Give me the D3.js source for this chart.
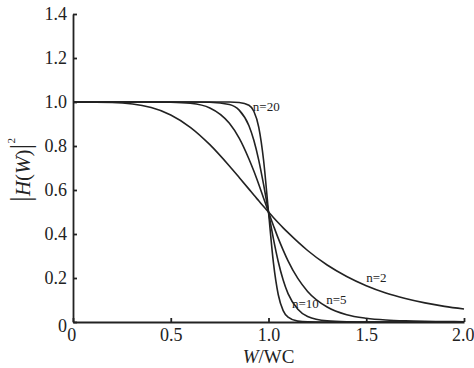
<!doctype html>
<html>
<head>
<meta charset="utf-8">
<script src="https://d3js.org/d3.v7.min.js"></script>
<style>
  body { margin:0; background:#fff; }
  text { font-family: "Liberation Serif", "Times New Roman", serif; fill:#222; }
</style>
</head>
<body>
<svg id="chart" width="474" height="368"></svg>
<script>
// frequency ratio W/WC where the curves were read
const wRatio = [0, 0.2, 0.4, 0.5, 0.6, 0.7, 0.8, 0.85, 0.9, 0.925, 0.95, 0.975, 1.0,
                1.025, 1.05, 1.075, 1.1, 1.15, 1.2, 1.3, 1.4, 1.5, 1.6, 1.7, 1.8, 1.9, 2.0];
// |H(W)|^2 for each order n
const n2  = [1, 0.998, 0.975, 0.941, 0.885, 0.806, 0.709, 0.657, 0.604, 0.577, 0.551, 0.525, 0.5,
             0.475, 0.451, 0.428, 0.406, 0.364, 0.325, 0.259, 0.207, 0.165, 0.132, 0.107, 0.087, 0.071, 0.059];
const n5  = [1, 1, 1, 0.999, 0.994, 0.973, 0.903, 0.836, 0.741, 0.686, 0.626, 0.563, 0.5,
             0.439, 0.380, 0.327, 0.278, 0.198, 0.139, 0.068, 0.033, 0.017, 0.009, 0.005, 0.003, 0.002, 0.001];
const n10 = [1, 1, 1, 1, 1, 0.999, 0.989, 0.963, 0.892, 0.826, 0.736, 0.624, 0.5,
             0.379, 0.274, 0.191, 0.129, 0.058, 0.025, 0.005, 0.001, 0, 0, 0, 0, 0, 0];
const n20 = [1, 1, 1, 1, 1, 1, 1, 0.998, 0.985, 0.958, 0.886, 0.734, 0.5,
             0.271, 0.124, 0.052, 0.022, 0.004, 0.001, 0, 0, 0, 0, 0, 0, 0, 0];

const seriesNames = ["n=2", "n=5", "n=10", "n=20"];
const xTicks = [0, 0.5, 1.0, 1.5, 2.0];
const yTicks = [0, 0.2, 0.4, 0.6, 0.8, 1.0, 1.2, 1.4];

const svg = d3.select("#chart");
const x = d3.scaleLinear().domain([0, 2]).range([73, 464]);
const y = d3.scaleLinear().domain([0, 1.4]).range([322, 14]);
const fmt = d => d === 0 ? "0" : d3.format(".1f")(d);

// x axis, ticks pointing up
const gx = svg.append("g").attr("transform", "translate(0," + y(0) + ")")
  .call(d3.axisBottom(x).tickValues(xTicks).tickFormat(fmt).tickSizeInner(-4).tickSizeOuter(0).tickPadding(5));
gx.selectAll("text").attr("font-size", 18).attr("dy", "0.78em");
gx.selectAll(".tick").filter(d => d === 0).select("text").attr("dx", "-0.1em");
gx.selectAll(".tick").filter(d => d === 2).select("text").attr("text-anchor", "end").attr("dx", "0.55em");

// y axis, ticks pointing right
const gy = svg.append("g").attr("transform", "translate(" + x(0) + ",0)")
  .call(d3.axisLeft(y).tickValues(yTicks).tickFormat(fmt).tickSizeInner(-4).tickSizeOuter(0).tickPadding(6));
gy.selectAll("text").attr("font-size", 18);
gy.selectAll(".tick").filter(d => d === 0).select("text").attr("dy", "0.5em");

svg.selectAll(".domain, .tick line").attr("stroke", "#222").attr("stroke-width", 1.8);
svg.selectAll(".tick text").attr("fill", "#222")
  .style("font-family", '"Liberation Serif", "Times New Roman", serif');

// curves
const line = d3.line().x((d, i) => x(wRatio[i])).y(d => y(d)).curve(d3.curveMonotoneX);
svg.selectAll("path.curve").data([n2, n5, n10, n20]).enter().append("path")
  .attr("class", "curve")
  .attr("d", line)
  .attr("fill", "none").attr("stroke", "#222").attr("stroke-width", 1.6);

// curve labels
const labelPos = [[1.5, 0.18], [1.295, 0.08], [1.12, 0.065], [0.92, 0.96]];
svg.selectAll("text.lbl").data(seriesNames).enter().append("text")
  .attr("class", "lbl")
  .attr("x", (d, i) => x(labelPos[i][0]))
  .attr("y", (d, i) => y(labelPos[i][1]))
  .attr("font-size", 13)
  .text(d => d);

// x label
const xl = svg.append("text").attr("x", x(1.0)).attr("y", 363)
  .attr("text-anchor", "middle").attr("font-size", 19);
xl.append("tspan").attr("font-style", "italic").text("W");
xl.append("tspan").text("/WC");

// y label
const yl = svg.append("text").attr("transform", "translate(30,170) rotate(-90)")
  .attr("text-anchor", "middle").attr("font-size", 21);
yl.append("tspan").attr("font-size", 29).text("|");
yl.append("tspan").attr("font-style", "italic").text("H");
yl.append("tspan").text("(");
yl.append("tspan").attr("font-style", "italic").text("W");
yl.append("tspan").text(")");
yl.append("tspan").attr("font-size", 29).text("|");
yl.append("tspan").attr("font-size", 11).attr("dy", -15).text("2");
</script>
</body>
</html>
